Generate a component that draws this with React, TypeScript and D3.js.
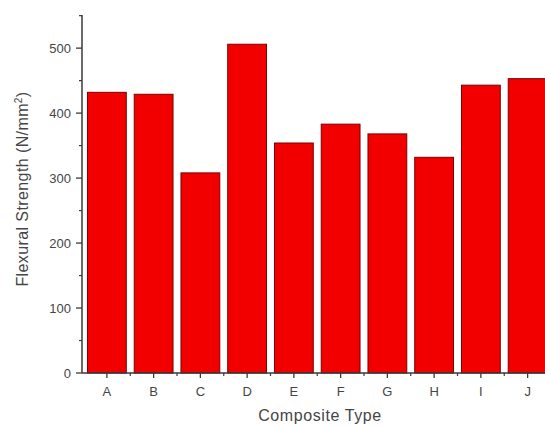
import React from "react";
import * as d3 from "d3";

const categories = ["A", "B", "C", "D", "E", "F", "G", "H", "I", "J"];
const values = [432, 429, 308, 506, 354, 383, 368, 332, 443, 453];
const yTicks = [0, 100, 200, 300, 400, 500];
const yMinorTicks = [50, 150, 250, 350, 450, 550];

const W = 545;
const H = 427;
const left = 82;
const right = 551;
const top = 15;
const bottom = 373;

export default function App() {
  const x = d3.scaleBand<string>().domain(categories).range([left + 1.5, right]).paddingInner(0.17).paddingOuter(0.085);
  const y = d3.scaleLinear().domain([0, 551]).range([bottom, top]);
  const step = x.step();
  const textColor = "#454545";
  const axisColor = "#3a3a3a";
  const font = "Arial, 'Liberation Sans', sans-serif";
  const minorX = categories.slice(0, -1).map((c) => (x(c) as number) + x.bandwidth() + (step - x.bandwidth()) / 2);
  return (
    <svg width={W} height={H} style={{ position: "absolute", left: 0, top: 0, background: "#fff" }} fontFamily={font}>
      {categories.map((c, i) => (
        <rect
          key={c}
          x={x(c)}
          y={y(values[i])}
          width={x.bandwidth()}
          height={bottom - y(values[i])}
          fill="#f20000"
          stroke="#7a0000"
          strokeWidth={1}
        />
      ))}
      {/* y axis */}
      <line x1={left} x2={left} y1={top} y2={bottom} stroke={axisColor} strokeWidth={1.5} />
      {yTicks.map((t) => (
        <g key={t}>
          <line x1={left - 6} x2={left} y1={y(t)} y2={y(t)} stroke={axisColor} strokeWidth={1.3} />
          <text x={left - 11} y={y(t)} dy="0.35em" textAnchor="end" fontSize={13} fill={textColor}>
            {t}
          </text>
        </g>
      ))}
      {yMinorTicks.map((t) => (
        <line key={t} x1={left - 3} x2={left} y1={y(t)} y2={y(t)} stroke={axisColor} strokeWidth={1.2} />
      ))}
      {/* x axis */}
      <line x1={left} x2={right} y1={bottom} y2={bottom} stroke={axisColor} strokeWidth={1.5} />
      {categories.map((c) => {
        const cx = (x(c) as number) + x.bandwidth() / 2;
        return (
          <g key={c}>
            <line x1={cx} x2={cx} y1={bottom} y2={bottom + 5} stroke={axisColor} strokeWidth={1.3} />
            <text x={cx} y={396} textAnchor="middle" fontSize={13} fill={textColor}>
              {c}
            </text>
          </g>
        );
      })}
      {minorX.map((mx, i) => (
        <line key={i} x1={mx} x2={mx} y1={bottom} y2={bottom + 3} stroke={axisColor} strokeWidth={1.2} />
      ))}
      <text x={320} y={421} textAnchor="middle" fontSize={16} letterSpacing={0.6} fill={textColor}>
        Composite Type
      </text>
      <text transform={`translate(28, 189) rotate(-90)`} textAnchor="middle" fontSize={16} letterSpacing={0.4} fill={textColor}>
        Flexural Strength (N/mm<tspan dy="-6" fontSize={10}>2</tspan>
        <tspan dy="6">)</tspan>
      </text>
    </svg>
  );
}
